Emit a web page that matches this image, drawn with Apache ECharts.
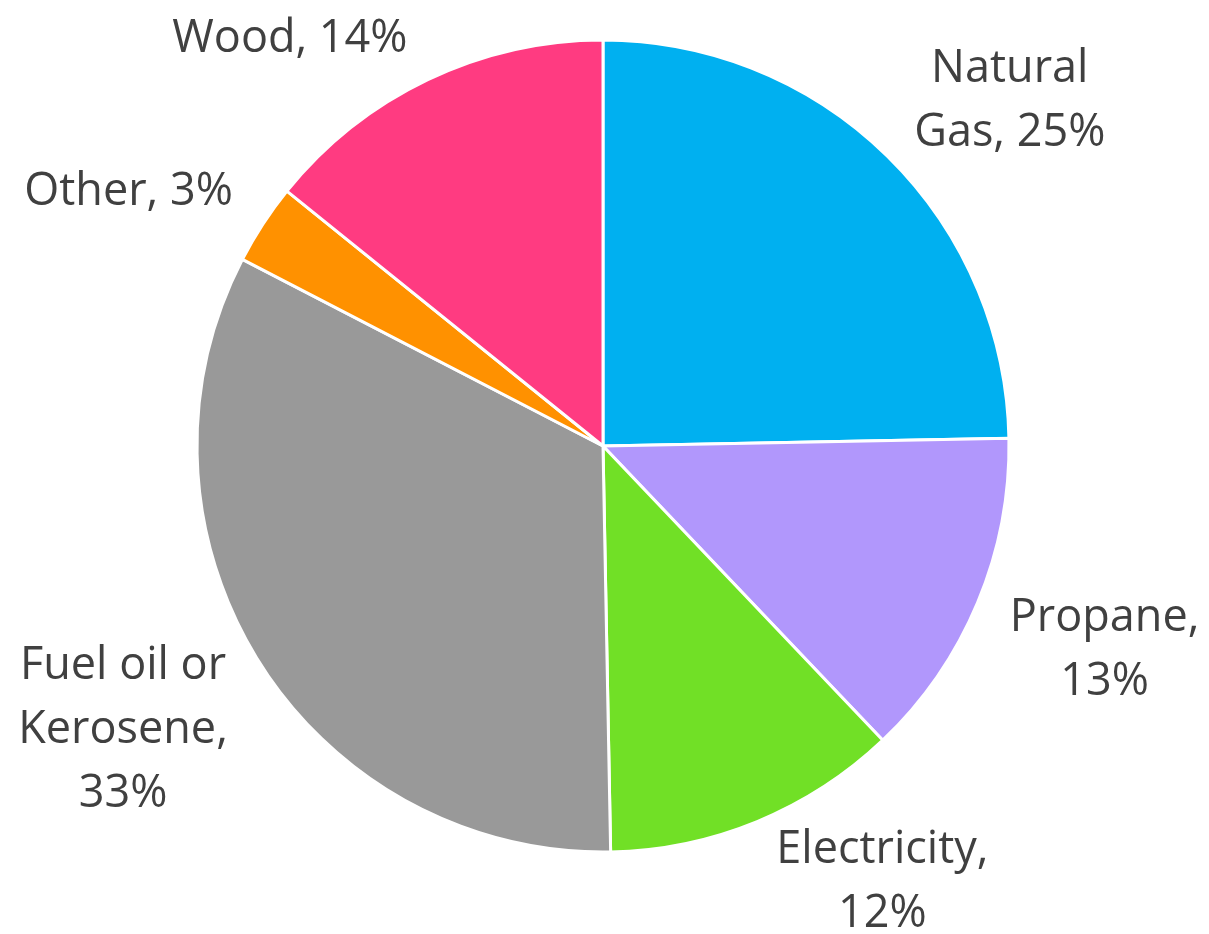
<!DOCTYPE html>
<html>
<head>
<meta charset="utf-8">
<script src="https://cdn.jsdelivr.net/npm/echarts@6/dist/echarts.min.js"></script>
<style>
  html, body { margin: 0; padding: 0; background: #ffffff; }
  #chart { width: 1209px; height: 934px; }
</style>
</head>
<body>
<div id="chart"></div>
<script>
// Data (clockwise from 12 o'clock)
const categories = ['Natural Gas', 'Propane', 'Electricity', 'Fuel oil or Kerosene', 'Other', 'Wood'];
const shares = [24.7, 13.2, 11.8, 32.9, 3.2, 14.2];
const labelTexts = ['Natural\nGas, 25%', 'Propane,\n13%', 'Electricity,\n12%', 'Fuel oil or\nKerosene,\n33%', 'Other, 3%', 'Wood, 14%'];
const colors = ['#00B0F0', '#B197FC', '#71E026', '#999999', '#FF9100', '#FF3B81'];

const CX = 603, CY = 446, R = 406, ANCHOR_GAP = 24, HGAP = 10, VFRAC = 0.6;
const total = shares.reduce((a, b) => a + b, 0);
const midAngles = [];
let acc = 0;
shares.forEach(v => {
  midAngles.push((acc + v / 2) / total * 2 * Math.PI);
  acc += v;
});

const chart = echarts.init(document.getElementById('chart'), null, { renderer: 'canvas' });
chart.setOption({
  backgroundColor: '#ffffff',
  animation: false,
  series: [{
    type: 'pie',
    center: [CX, CY],
    radius: R,
    startAngle: 90,
    clockwise: true,
    data: categories.map((c, i) => ({ name: c, value: shares[i], itemStyle: { color: colors[i] } })),
    itemStyle: { borderColor: '#ffffff', borderWidth: 3 },
    label: {
      show: true,
      position: 'outside',
      alignTo: 'none',
      overflow: 'none',
      formatter: p => labelTexts[p.dataIndex],
      fontFamily: 'Open Sans',
      fontSize: 45,
      lineHeight: 64,
      color: '#404040',
      align: 'center'
    },
    labelLine: { show: false },
    labelLayout: function (params) {
      const i = params.dataIndex;
      const a = midAngles[i];
      const ux = Math.sin(a), uy = -Math.cos(a);
      const w = params.labelRect.width / 2, h = params.labelRect.height / 2;
      const px = CX + ux * (R + ANCHOR_GAP);
      const py = CY + uy * (R + ANCHOR_GAP);
      return {
        x: px + Math.sign(ux) * (w + HGAP),
        y: py + Math.sign(uy) * VFRAC * h,
        align: 'center',
        verticalAlign: 'middle'
      };
    },
    emphasis: { disabled: true }
  }]
});
</script>
</body>
</html>
